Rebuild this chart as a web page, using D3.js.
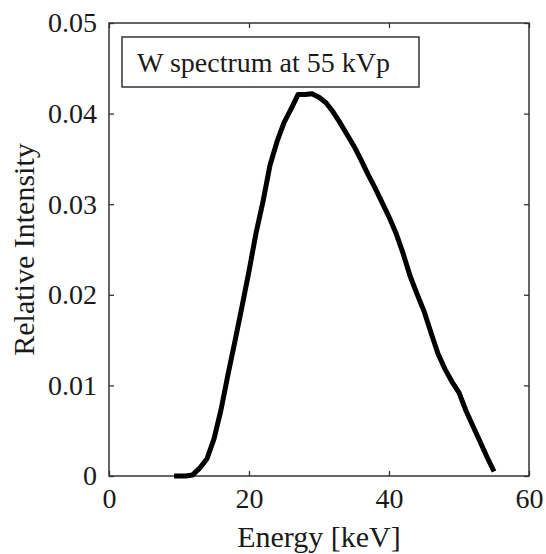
<!DOCTYPE html>
<html>
<head>
<meta charset="utf-8">
<script src="https://cdn.jsdelivr.net/npm/d3@7"></script>
<style>
  body { margin: 0; background: #fff; }
  svg text { font-family: "Liberation Serif", "DejaVu Serif", serif !important; fill: #1a1a1a; }
</style>
</head>
<body>
<div id="chart"></div>
<script>
// spectrum (keV, relative intensity)
var energy = [9.3, 10, 11, 11.9, 13, 14, 15, 16, 17, 18, 19, 20, 21, 22, 23, 24, 25, 26, 27, 28, 29, 30,
    31, 32, 33, 34, 35, 36, 37, 38, 39, 40, 41, 42, 43, 44, 45, 46, 47, 48, 49, 50, 51, 52, 53, 54, 55];
var intensity = [0, 0, 0, 0.0001, 0.0009, 0.0019, 0.0041, 0.0073, 0.0112, 0.0149, 0.0187, 0.0226, 0.0268, 0.0303, 0.0343, 0.0369, 0.0390, 0.0405, 0.0421, 0.0421,
    0.0422, 0.0418, 0.0412, 0.0402, 0.0390, 0.0377, 0.0364, 0.0349, 0.0333, 0.0318, 0.0302, 0.0286, 0.0268, 0.0246, 0.0221, 0.0201,
    0.0182, 0.0158, 0.0135, 0.0118, 0.0104, 0.0092, 0.0072, 0.0055, 0.0038, 0.0021, 0.0005];
var xTicks = [0, 20, 40, 60];
var yTicks = [0, 0.01, 0.02, 0.03, 0.04, 0.05];
var legendLabel = "W spectrum at 55 kVp";

var serif = '"Liberation Serif", "DejaVu Serif", serif';

var margin = {t: 23, r: 17, b: 78, l: 109};
var W = 546, H = 554;
var width = W - margin.l - margin.r;
var height = H - margin.t - margin.b;

var svg = d3.select("#chart").append("svg")
    .attr("width", W)
    .attr("height", H);

var plot = svg.append("g")
    .attr("transform", "translate(" + margin.l + "," + margin.t + ")");

var x = d3.scaleLinear().domain([0, 60]).range([0, width]);
var y = d3.scaleLinear().domain([0, 0.05]).range([height, 0]);

//axes with inward ticks on all four sides
var xAxis = plot.append("g")
    .attr("transform", "translate(0," + height + ")")
    .call(d3.axisBottom(x).tickValues(xTicks).tickSizeInner(-5).tickSizeOuter(0).tickPadding(12));
var xTop = plot.append("g")
    .call(d3.axisTop(x).tickValues(xTicks).tickSizeInner(-5).tickSizeOuter(0).tickFormat(""));
var yAxis = plot.append("g")
    .call(d3.axisLeft(y).tickValues(yTicks).tickSizeInner(-5).tickSizeOuter(0).tickPadding(12)
        .tickFormat(function (d) { return d === 0 ? "0" : d3.format(".2f")(d); }));
var yRight = plot.append("g")
    .attr("transform", "translate(" + width + ",0)")
    .call(d3.axisRight(y).tickValues(yTicks).tickSizeInner(-5).tickSizeOuter(0).tickFormat(""));

[xAxis, xTop, yAxis, yRight].forEach(function (a) {
    a.attr("font-family", serif);
    a.select(".domain").remove();
    a.selectAll("line").attr("stroke", "#333").attr("stroke-width", 1.3);
    a.selectAll("text").style("font-size", "28px").style("font-family", serif).attr("fill", "#1a1a1a");
});
xAxis.selectAll("text").attr("dy", "0.71em");

plot.append("rect")
    .attr("x", 0).attr("y", 0)
    .attr("width", width).attr("height", height)
    .attr("fill", "none")
    .attr("stroke", "#333")
    .attr("stroke-width", 1.5);

//spectrum line
var line = d3.line()
    .x(function (d, i) { return x(energy[i]); })
    .y(function (d) { return y(d); });

plot.append("path")
    .datum(intensity)
    .attr("d", line)
    .attr("fill", "none")
    .attr("stroke", "#000")
    .attr("stroke-width", 5)
    .attr("stroke-linejoin", "round");

//legend box
plot.append("rect")
    .attr("x", 13).attr("y", 14)
    .attr("width", 297).attr("height", 50)
    .attr("fill", "#fff")
    .attr("stroke", "#333")
    .attr("stroke-width", 1.5);
plot.append("text")
    .attr("x", 28).attr("y", 49)
    .style("font-size", "28px")
    .style("font-family", serif)
    .text(legendLabel);

//axis titles
svg.append("text")
    .attr("x", margin.l + width / 2)
    .attr("y", 547)
    .style("font-size", "30px")
    .style("font-family", serif)
    .style("text-anchor", "middle")
    .text("Energy [keV]");

svg.append("text")
    .attr("transform", "translate(34," + (margin.t + height / 2) + ") rotate(-90)")
    .style("font-size", "30px")
    .style("font-family", serif)
    .style("text-anchor", "middle")
    .text("Relative Intensity");
</script>
</body>
</html>
